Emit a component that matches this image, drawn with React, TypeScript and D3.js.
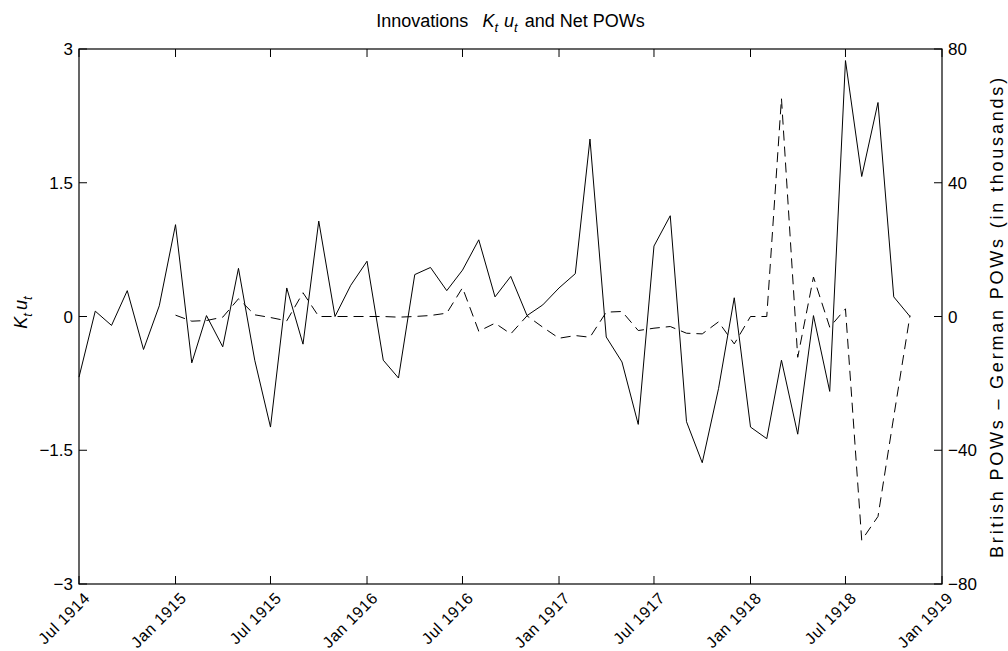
import * as d3 from 'd3';

// Monthly innovations K_t u_t, Jul 1914 – Nov 1918 (left axis)
const innovations = [
  -0.68, 0.06, -0.10, 0.29, -0.37, 0.12, 1.03, -0.52, 0.01, -0.34, 0.54, -0.49,
  -1.24, 0.32, -0.31, 1.07, 0.0, 0.35, 0.62, -0.49, -0.69, 0.47, 0.55, 0.29,
  0.52, 0.86, 0.22, 0.45, 0.01, 0.13, 0.32, 0.48, 1.99, -0.23, -0.51, -1.21,
  0.79, 1.13, -1.18, -1.64, -0.81, 0.21, -1.24, -1.37, -0.49, -1.32, 0.01, -0.84,
  2.87, 1.57, 2.40, 0.22, 0.0,
];

// Net POWs (British – German, thousands), Jan 1915 – Nov 1918 (right axis)
const netPOWs = [
  0.4, -1.4, -1.2, -0.2, 5.3, 0.5, -0.3, -1.3, 7.1, 0, 0, 0,
  0, 0, -0.2, 0, 0.3, 1.0, 8.6, -4.4, -2.0, -5.2, 0.2, -3.2,
  -6.5, -5.7, -6.2, 1.3, 1.5, -4.2, -3.5, -3.0, -5.0, -5.2, -1.6, -8.2,
  0, 0, 65.2, -12.2, 11.8, -3.2, 2.3, -66.9, -59.8, -30.0, 0.3,
];

const months = d3.timeMonth.range(new Date(1914, 6, 1), new Date(1918, 11, 1));
const powMonths = months.slice(6);

const xTicks = d3.timeMonth.every(6)!.range(new Date(1914, 6, 1), new Date(1919, 0, 2));
const leftTicks = [-3, -1.5, 0, 1.5, 3];
const rightTicks = [-80, -40, 0, 40, 80];

const W = 1008;
const H = 651;
const margin = { top: 49, right: 66, bottom: 67, left: 79 };
const FONT = '"Liberation Sans", Arial, Helvetica, sans-serif';

const fmtMonth = d3.timeFormat('%b %Y');
const fmtNum = (v: number) => (v < 0 ? '\u2212' + String(-v) : String(v));

export default function App() {
  const x = d3.scaleTime()
    .domain([new Date(1914, 6, 1), new Date(1919, 0, 1)])
    .range([margin.left, W - margin.right]);
  const yL = d3.scaleLinear().domain([-3, 3]).range([H - margin.bottom, margin.top]);
  const yR = d3.scaleLinear().domain([-80, 80]).range([H - margin.bottom, margin.top]);

  const x0 = margin.left;
  const x1 = W - margin.right;
  const y0 = margin.top;
  const y1 = H - margin.bottom;
  const tk = 8;

  const solid = d3.line<number>()
    .x((_, i) => x(months[i]))
    .y((d) => yL(d))(innovations) ?? '';
  const dashed = d3.line<number>()
    .x((_, i) => x(powMonths[i]))
    .y((d) => yR(d))(netPOWs) ?? '';

  return (
    <svg
      width={W}
      height={H}
      style={{ position: 'absolute', left: 0, top: 0, background: '#fff' }}
      fontFamily={FONT}
    >
      <rect width={W} height={H} fill="#fff" />

      {/* data */}
      <path d={solid} fill="none" stroke="#000" strokeWidth={1} />
      <path d={dashed} fill="none" stroke="#000" strokeWidth={1} strokeDasharray="10,6" />

      {/* frame */}
      <rect x={x0} y={y0} width={x1 - x0} height={y1 - y0} fill="none" stroke="#000" strokeWidth={1.2} />

      {/* x ticks (bottom and top, pointing inward) */}
      {xTicks.map((d, i) => {
        const px = x(d);
        return (
          <g key={'x' + i}>
            <line x1={px} x2={px} y1={y1} y2={y1 - tk} stroke="#000" />
            <line x1={px} x2={px} y1={y0} y2={y0 + tk} stroke="#000" />
            <text
              transform={`translate(${px + 12},${y1 + 15}) rotate(-45)`}
              textAnchor="end"
              fontSize={16}
              letterSpacing={0.6}
            >
              {fmtMonth(d)}
            </text>
          </g>
        );
      })}

      {/* left axis */}
      {leftTicks.map((v) => (
        <g key={'l' + v}>
          <line x1={x0} x2={x0 + tk} y1={yL(v)} y2={yL(v)} stroke="#000" />
          <text x={x0 - 6} y={yL(v)} dy="0.36em" textAnchor="end" fontSize={17}>
            {fmtNum(v)}
          </text>
        </g>
      ))}

      {/* right axis */}
      {rightTicks.map((v) => (
        <g key={'r' + v}>
          <line x1={x1} x2={x1 - tk} y1={yR(v)} y2={yR(v)} stroke="#000" />
          <text x={x1 + 6} y={yR(v)} dy="0.36em" textAnchor="start" fontSize={17}>
            {fmtNum(v)}
          </text>
        </g>
      ))}

      {/* axis titles */}
      <text transform={`translate(27,${(y0 + y1) / 2 - 4}) rotate(-90)`} textAnchor="middle" fontSize={18}>
        <tspan fontStyle="italic">K</tspan>
        <tspan fontStyle="italic" fontSize={13} dy={5}>t</tspan>
        <tspan fontStyle="italic" dy={-5} dx={3}>u</tspan>
        <tspan fontStyle="italic" fontSize={13} dy={5}>t</tspan>
      </text>
      <text
        transform={`translate(1003,${(y0 + y1) / 2}) rotate(-90)`}
        textAnchor="middle"
        fontSize={18}
        letterSpacing={2.8}
      >
        British POWs – German POWs (in thousands)
      </text>

      {/* title */}
      <text x={(x0 + x1) / 2} y={27} textAnchor="middle" fontSize={18}>
        <tspan>Innovations</tspan>
        <tspan fontStyle="italic" dx={14}>K</tspan>
        <tspan fontStyle="italic" fontSize={13} dy={5}>t</tspan>
        <tspan fontStyle="italic" dy={-5} dx={6}>u</tspan>
        <tspan fontStyle="italic" fontSize={13} dy={5}>t</tspan>
        <tspan dy={-5} dx={2}> and Net POWs</tspan>
      </text>
    </svg>
  );
}
